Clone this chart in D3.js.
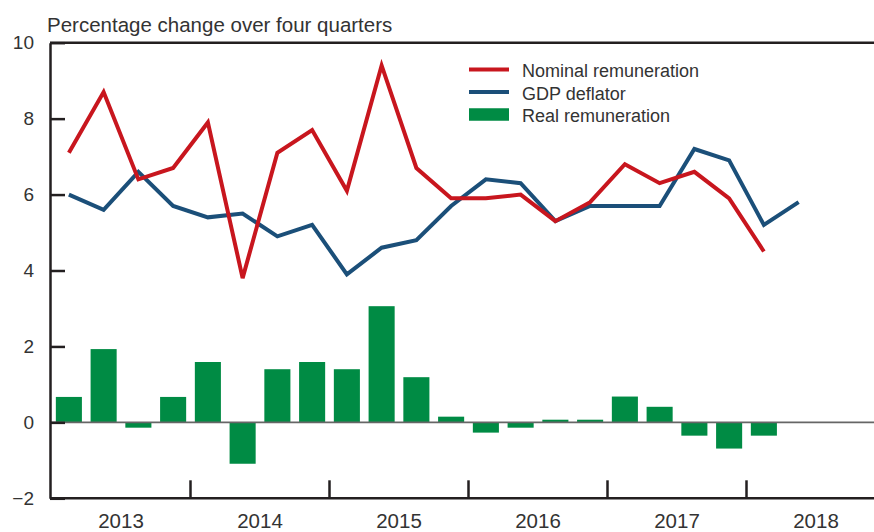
<!DOCTYPE html>
<html>
<head>
<meta charset="utf-8">
<script src="https://cdn.jsdelivr.net/npm/d3@7"></script>
<style>
  body { margin: 0; background: #fff; }
  svg text { font-family: "Liberation Sans", Arial, sans-serif; fill: #333; }
</style>
</head>
<body>
<svg id="chart" width="874" height="532"></svg>
<script>
// quarters 2013Q1 .. 2018Q4
var years = [2013, 2014, 2015, 2016, 2017, 2018];
var quarters = [];
years.forEach(function (y) { [1, 2, 3, 4].forEach(function (q) { quarters.push(y + "Q" + q); }); });

var nominal = [7.1, 8.7, 6.4, 6.7, 7.9, 3.8, 7.1, 7.7, 6.1, 9.4, 6.7, 5.9, 5.9, 6.0, 5.3, 5.8, 6.8, 6.3, 6.6, 5.9, 4.5];
var deflator = [6.0, 5.6, 6.6, 5.7, 5.4, 5.5, 4.9, 5.2, 3.9, 4.6, 4.8, 5.7, 6.4, 6.3, 5.3, 5.7, 5.7, 5.7, 7.2, 6.9, 5.2, 5.8];
var real = [0.67, 1.93, -0.14, 0.67, 1.59, -1.09, 1.4, 1.59, 1.4, 3.06, 1.19, 0.15, -0.27, -0.14, 0.07, 0.07, 0.68, 0.41, -0.35, -0.69, -0.35];
var yTicks = [-2, 0, 2, 4, 6, 8, 10];

var red = "#c8161e", blue = "#1b4f79", green = "#008b44", ink = "#231f20";

var svg = d3.select("#chart"),
    plotLeft = 50, plotRight = 874, plotTop = 42.7, plotBottom = 498.3,
    step = 34.75;

var x = d3.scaleBand()
    .domain(quarters)
    .range([51.5, 51.5 + step * quarters.length])
    .paddingInner(0.25)
    .paddingOuter(0.125);

var y = d3.scaleLinear().domain([-2, 10]).range([plotBottom, plotTop]);

var half = (x.step() - x.bandwidth()) / 2;
var cx = function (i) { return x(quarters[i]) + x.bandwidth() / 2; };

// bars
svg.append("g").selectAll("rect")
    .data(real)
    .enter().append("rect")
    .attr("x", function (d, i) { return x(quarters[i]); })
    .attr("width", x.bandwidth())
    .attr("y", function (d) { return y(Math.max(0, d)); })
    .attr("height", function (d) { return Math.abs(y(d) - y(0)); })
    .attr("fill", green);

// zero line
svg.append("line")
    .attr("x1", plotLeft).attr("x2", plotRight)
    .attr("y1", y(0)).attr("y2", y(0))
    .attr("stroke", "#666").attr("stroke-width", 1.6);

// lines
var line = d3.line()
    .x(function (d, i) { return cx(i); })
    .y(function (d) { return y(d); });

svg.append("path").datum(deflator)
    .attr("d", line).attr("fill", "none")
    .attr("stroke", blue).attr("stroke-width", 4).attr("stroke-linejoin", "miter");

svg.append("path").datum(nominal)
    .attr("d", line).attr("fill", "none")
    .attr("stroke", red).attr("stroke-width", 4).attr("stroke-linejoin", "miter");

// frame
svg.append("line").attr("x1", plotLeft).attr("x2", plotRight).attr("y1", plotTop).attr("y2", plotTop)
    .attr("stroke", ink).attr("stroke-width", 2.5);
svg.append("line").attr("x1", plotLeft).attr("x2", plotRight).attr("y1", plotBottom).attr("y2", plotBottom)
    .attr("stroke", ink).attr("stroke-width", 2.5);

// y axis
var yAxis = d3.axisLeft(y).tickValues(yTicks).tickSizeInner(-15).tickSizeOuter(0).tickPadding(16);
var gy = svg.append("g").attr("transform", "translate(" + plotLeft + ",0)").call(yAxis);
gy.select(".domain").attr("stroke", ink).attr("stroke-width", 2.5);
gy.selectAll(".tick line").attr("stroke", ink).attr("stroke-width", 2.5);
gy.selectAll(".tick text").attr("font-size", 19).attr("fill", "#333")
    .attr("font-family", "Liberation Sans, Arial, sans-serif");

// year separators and labels
svg.append("g").selectAll("line")
    .data(years.slice(1))
    .enter().append("line")
    .attr("x1", function (d) { return x(d + "Q1") - half; })
    .attr("x2", function (d) { return x(d + "Q1") - half; })
    .attr("y1", plotBottom).attr("y2", plotBottom - 18)
    .attr("stroke", ink).attr("stroke-width", 2.5);

svg.append("g").selectAll("text")
    .data(years)
    .enter().append("text")
    .attr("x", function (d) { return x(d + "Q3") - half; })
    .attr("y", 527.5)
    .attr("text-anchor", "middle")
    .attr("font-size", 20.5)
    .text(function (d) { return d; });

// title
svg.append("text").attr("x", 47).attr("y", 31.5).attr("font-size", 20.5)
    .text("Percentage change over four quarters");

// legend
var legend = [
    { name: "Nominal remuneration", color: red, h: 4 },
    { name: "GDP deflator", color: blue, h: 4 },
    { name: "Real remuneration", color: green, h: 12.5 }
];
var lg = svg.append("g").selectAll("g").data(legend).enter().append("g")
    .attr("transform", function (d, i) { return "translate(469," + (69.5 + i * 22.5) + ")"; });
lg.append("rect").attr("x", 0).attr("width", 40)
    .attr("y", function (d) { return -d.h / 2; })
    .attr("height", function (d) { return d.h; })
    .attr("fill", function (d) { return d.color; });
lg.append("text").attr("x", 53).attr("y", 7.5).attr("font-size", 18)
    .text(function (d) { return d.name; });
</script>
</body>
</html>
